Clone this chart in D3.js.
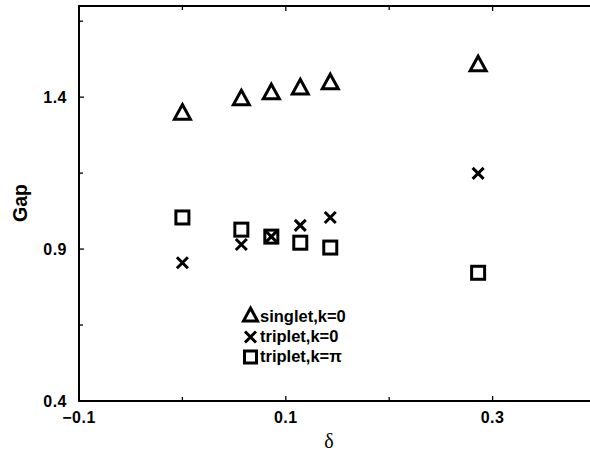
<!DOCTYPE html>
<html>
<head>
<meta charset="utf-8">
<script src="https://cdn.jsdelivr.net/npm/d3@7/dist/d3.min.js"></script>
<style>
  html, body { margin: 0; padding: 0; background: #fff; }
  svg { display: block; }
  text { font-family: "Liberation Sans", Arial, sans-serif; }
</style>
</head>
<body>
<svg id="chart" width="590" height="452"></svg>
<script>
// δ values and the three gap series
const delta = [0.0, 0.057, 0.086, 0.114, 0.143, 0.286];
const singletK0 = [1.350, 1.397, 1.417, 1.433, 1.450, 1.509];
const tripletK0 = [0.855, 0.915, 0.941, 0.978, 1.004, 1.149];
const tripletKpi = [1.004, 0.964, 0.941, 0.921, 0.905, 0.822];

const xTicks = [-0.1, 0.0, 0.1, 0.2, 0.3];
const xTickLabels = ["\u22120.1", "", "0.1", "", "0.3"];
const yTicks = [0.4, 0.65, 0.9, 1.15, 1.4, 1.65];
const yTickLabels = ["0.4", "", "0.9", "", "1.4", ""];

const legendLabels = ["singlet,k=0", "triplet,k=0", "triplet,k=\u03c0"];

(function () {
const svg = d3.select("#chart");
const pL = 79, pR = 596, pT = 6, pB = 401;

const x = d3.scaleLinear().domain([-0.1, 0.4]).range([pL, pR]);
const y = d3.scaleLinear().domain([0.4, 1.7]).range([pB, pT]);

// frame
svg.append("rect")
  .attr("x", pL).attr("y", pT)
  .attr("width", pR - pL).attr("height", pB - pT)
  .attr("fill", "none").attr("stroke", "#000").attr("stroke-width", 2);

// inward ticks
const tickLen = (lbl) => lbl ? 5 : 4;
xTicks.forEach((t, i) => {
  const L = tickLen(xTickLabels[i]);
  svg.append("line").attr("x1", x(t)).attr("x2", x(t))
    .attr("y1", pB).attr("y2", pB - L).attr("stroke", "#000").attr("stroke-width", 1.3);
  svg.append("line").attr("x1", x(t)).attr("x2", x(t))
    .attr("y1", pT).attr("y2", pT + L).attr("stroke", "#000").attr("stroke-width", 1.3);
  if (xTickLabels[i]) {
    svg.append("text").attr("x", x(t)).attr("y", 423)
      .attr("text-anchor", "middle").attr("font-size", 16).attr("font-weight", "bold")
      .attr("letter-spacing", 0.5)
      .text(xTickLabels[i]);
  }
});
yTicks.forEach((t, i) => {
  const L = tickLen(yTickLabels[i]);
  svg.append("line").attr("x1", pL).attr("x2", pL + L)
    .attr("y1", y(t)).attr("y2", y(t)).attr("stroke", "#000").attr("stroke-width", 1.3);
  if (yTickLabels[i]) {
    svg.append("text").attr("x", 67).attr("y", y(t) + 6)
      .attr("text-anchor", "end").attr("font-size", 16).attr("font-weight", "bold")
      .attr("letter-spacing", 0.5)
      .text(yTickLabels[i]);
  }
});

// axis titles
svg.append("text").attr("x", 329).attr("y", 448)
  .attr("text-anchor", "middle").attr("font-size", 20)
  .style("font-family", "'Liberation Serif', 'DejaVu Serif', serif")
  .text("\u03b4");
svg.append("text")
  .attr("transform", "translate(27, 203) rotate(-90)")
  .attr("text-anchor", "middle").attr("font-size", 19.5).attr("font-weight", "bold")
  .text("Gap");

// marker shapes
function triangle(g, cx, cy, s) {
  const h = s * 0.85;
  g.append("path")
    .attr("d", `M${cx},${cy - h / 2 - 1}L${cx + s / 2},${cy + h / 2}L${cx - s / 2},${cy + h / 2}Z`)
    .attr("fill", "none").attr("stroke", "#000").attr("stroke-width", 3)
    .attr("stroke-linejoin", "miter");
}
function cross(g, cx, cy, s) {
  const r = s / 2;
  g.append("path")
    .attr("d", `M${cx - r},${cy - r}L${cx + r},${cy + r}M${cx - r},${cy + r}L${cx + r},${cy - r}`)
    .attr("stroke", "#000").attr("stroke-width", 3);
}
function square(g, cx, cy, s) {
  g.append("rect")
    .attr("x", cx - s / 2).attr("y", cy - s / 2).attr("width", s).attr("height", s)
    .attr("fill", "none").attr("stroke", "#000").attr("stroke-width", 3);
}

const marks = svg.append("g");
delta.forEach((d, i) => triangle(marks, x(d), y(singletK0[i]), 16));
delta.forEach((d, i) => cross(marks, x(d), y(tripletK0[i]), 11));
delta.forEach((d, i) => square(marks, x(d), y(tripletKpi[i]), 13));

// legend
const lg = svg.append("g");
const legRows = [322, 342, 362];
const legMarkY = [315, 337, 357];
const legDraw = [triangle, cross, square];
const legSize = [14, 11, 12];
legRows.forEach((ry, i) => {
  legDraw[i](lg, 250.5, legMarkY[i], legSize[i]);
  lg.append("text").attr("x", 260).attr("y", ry)
    .attr("font-size", 16.5).attr("font-weight", "bold")
    .text(legendLabels[i]);
});
})();
</script>
</body>
</html>
